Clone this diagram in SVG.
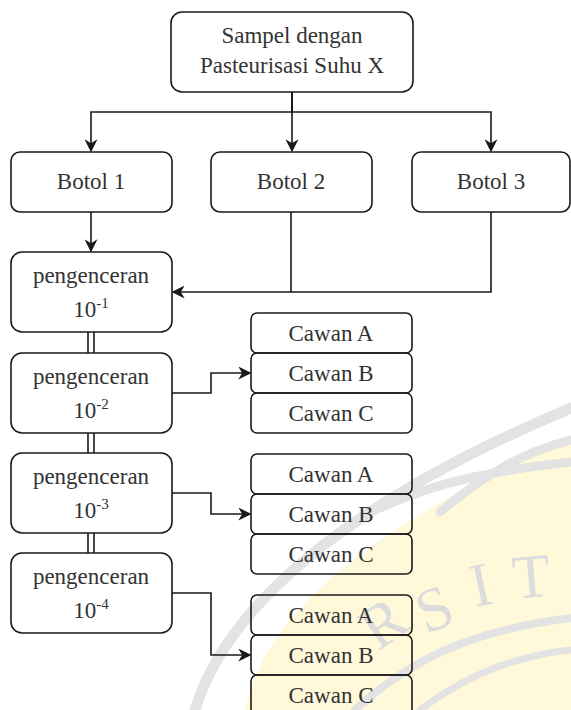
<svg xmlns="http://www.w3.org/2000/svg" width="571" height="710" viewBox="0 0 571 710">
<style>
.box{fill:none;stroke:#1a1a1a;stroke-width:1.6}
.t{font-family:"Liberation Serif","Times New Roman",serif;font-size:23px;fill:#333;text-anchor:middle}
.sup{font-size:15px}
.c{fill:none;stroke:#1a1a1a;stroke-width:1.6}
.wm{fill:none;stroke:#e3e3e3;stroke-linecap:round}
.wl{font-family:"Liberation Serif","Times New Roman",serif;font-size:62px;fill:#dcdcdc;text-anchor:middle}
</style>
<defs>
<marker id="arr" viewBox="0 0 10 10" refX="9" refY="5" markerWidth="13" markerHeight="13" markerUnits="userSpaceOnUse" orient="auto">
<path d="M0,0 L10,5 L0,10 L3,5 Z" fill="#1a1a1a"/>
</marker>
</defs>
<rect width="571" height="710" fill="#fff"/>
<g id="watermark">
<path d="M245 710 C265 610 380 520 571 440 L571 710 Z" fill="#fff9da"/>
<path class="wm" stroke-width="11" d="M195 710 C225 610 340 505 571 408"/>
<path class="wm" stroke-width="9" d="M380 508 C440 480 500 470 571 462"/>
<path class="wm" stroke-width="9" d="M440 512 C490 470 530 450 571 440"/>
<path class="wm" stroke-width="8" d="M355 710 C420 650 490 628 571 618"/>
<path class="wm" stroke-width="7" d="M420 710 C470 672 520 655 571 650"/>
<text class="wl" transform="translate(395,640) rotate(-35)">R</text>
<text class="wl" transform="translate(442,628) rotate(-22)">S</text>
<text class="wl" transform="translate(485,605) rotate(-12)">I</text>
<text class="wl" transform="translate(533,597) rotate(-5)">T</text>
</g>
<g id="connectors">
<path class="c" d="M292 92 V112 H91 V151" marker-end="url(#arr)"/>
<path class="c" d="M292 92 V151" marker-end="url(#arr)"/>
<path class="c" d="M292 92 V112 H491 V151" marker-end="url(#arr)"/>
<path class="c" d="M91 212 V251" marker-end="url(#arr)"/>
<path class="c" d="M291 212 V292 H173" marker-end="url(#arr)"/>
<path class="c" d="M491 212 V292 H291"/>
<path class="c" d="M88 332 V353 M94 332 V353"/>
<path class="c" d="M88 433 V453 M94 433 V453"/>
<path class="c" d="M88 533 V553 M94 533 V553"/>
<path class="c" d="M172 393 H211 V373 H250" marker-end="url(#arr)"/>
<path class="c" d="M172 493 H211 V514 H250" marker-end="url(#arr)"/>
<path class="c" d="M172 593 H211 V655 H250" marker-end="url(#arr)"/>
</g>
<g id="sampel">
<rect class="box" x="171" y="12" width="242" height="80" rx="11"/>
<text class="t" x="292" y="43">Sampel dengan</text>
<text class="t" x="292" y="73">Pasteurisasi Suhu X</text>
</g>
<g id="botol1">
<rect class="box" x="11" y="152" width="161" height="60" rx="9"/>
<text class="t" x="91" y="189">Botol 1</text>
</g>
<g id="botol2">
<rect class="box" x="211" y="152" width="161" height="60" rx="9"/>
<text class="t" x="291" y="189">Botol 2</text>
</g>
<g id="botol3">
<rect class="box" x="412" y="152" width="158" height="60" rx="9"/>
<text class="t" x="491" y="189">Botol 3</text>
</g>
<g id="pengenceran1">
<rect class="box" x="11" y="252" width="161" height="80" rx="11"/>
<text class="t" x="91" y="283">pengenceran</text>
<text class="t" x="91" y="317">10<tspan class="sup" dy="-9">-1</tspan></text>
</g>
<g id="pengenceran2">
<rect class="box" x="11" y="353" width="161" height="80" rx="11"/>
<text class="t" x="91" y="384">pengenceran</text>
<text class="t" x="91" y="418">10<tspan class="sup" dy="-9">-2</tspan></text>
</g>
<g id="pengenceran3">
<rect class="box" x="11" y="453" width="161" height="80" rx="11"/>
<text class="t" x="91" y="484">pengenceran</text>
<text class="t" x="91" y="518">10<tspan class="sup" dy="-9">-3</tspan></text>
</g>
<g id="pengenceran4">
<rect class="box" x="11" y="553" width="161" height="80" rx="11"/>
<text class="t" x="91" y="584">pengenceran</text>
<text class="t" x="91" y="618">10<tspan class="sup" dy="-9">-4</tspan></text>
</g>
<g id="cawan1">
<rect class="box" x="251" y="313" width="161" height="40" rx="6"/>
<text class="t" x="331" y="341">Cawan A</text>
<rect class="box" x="251" y="353" width="161" height="40" rx="6"/>
<text class="t" x="331" y="381">Cawan B</text>
<rect class="box" x="251" y="393" width="161" height="40" rx="6"/>
<text class="t" x="331" y="421">Cawan C</text>
</g>
<g id="cawan2">
<rect class="box" x="251" y="454" width="161" height="40" rx="6"/>
<text class="t" x="331" y="482">Cawan A</text>
<rect class="box" x="251" y="494" width="161" height="40" rx="6"/>
<text class="t" x="331" y="522">Cawan B</text>
<rect class="box" x="251" y="534" width="161" height="40" rx="6"/>
<text class="t" x="331" y="562">Cawan C</text>
</g>
<g id="cawan3">
<rect class="box" x="251" y="595" width="161" height="40" rx="6"/>
<text class="t" x="331" y="623">Cawan A</text>
<rect class="box" x="251" y="635" width="161" height="40" rx="6"/>
<text class="t" x="331" y="663">Cawan B</text>
<rect class="box" x="251" y="675" width="161" height="40" rx="6"/>
<text class="t" x="331" y="703">Cawan C</text>
</g>
</svg>
